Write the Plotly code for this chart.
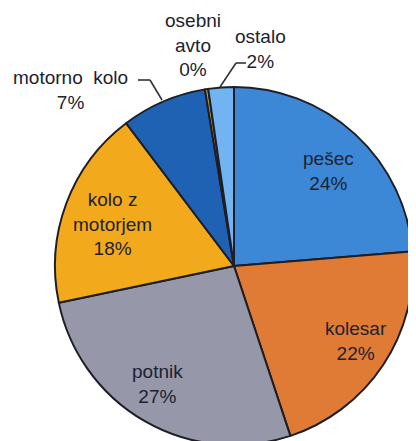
import plotly.graph_objects as go

# ---- data ----
categories = ["pešec", "kolesar", "potnik", "kolo z motorjem", "motorno kolo", "osebni avto", "ostalo"]
shares = [23.7, 21.2, 26.8, 18.0, 7.7, 0.3, 2.3]          # slice sizes as drawn
pct_labels = [24, 22, 27, 18, 7, 0, 2]                      # printed percentages
label_text = ["pešec", "kolesar", "potnik", "kolo z<br>motorjem",
              "motorno\u00a0 kolo", "osebni<br>avto", "ostalo"]
colors = ["#3d88d6", "#e07b36", "#9698aa", "#f2aa1c", "#1f62b4", "#a3a23e", "#72b3f2"]

W, H = 416, 441
OFF = 8  # page body margin offset
def px(x): return (x - OFF) / W
def py(y): return 1 - (y - OFF) / H

fig = go.Figure(go.Pie(
    labels=categories, values=shares, sort=False, direction="clockwise", rotation=0,
    marker=dict(colors=colors, line=dict(color="#1e1e24", width=2)),
    textinfo="none", hoverinfo="skip", showlegend=False,
    domain=dict(x=[px(55), px(413)], y=[py(445), py(87)]),
))

# label placement (screen pixel centres)
pos = {
    "pešec": (328, 171),
    "kolesar": (356, 341),
    "potnik": (157, 384),
    "kolo z motorjem": (112, 224),
    "motorno kolo": (70, 90),
    "osebni avto": (193, 45),
    "ostalo": (261, 49),
}
annotations = []
for cat, lt, p in zip(categories, label_text, pct_labels):
    x, y = pos[cat]
    annotations.append(dict(
        x=px(x), y=py(y), xref="paper", yref="paper", showarrow=False,
        text=f"{lt}<br>{p}%", align="center", xanchor="center", yanchor="middle",
        font=dict(family="Liberation Sans, Arial, sans-serif", size=19, color="#1c2230"),
    ))

shapes = []
def polyline(pts):
    for (x0, y0), (x1, y1) in zip(pts[:-1], pts[1:]):
        shapes.append(dict(type="line", xref="paper", yref="paper",
                           x0=px(x0), y0=py(y0), x1=px(x1), y1=py(y1),
                           line=dict(color="#333333", width=1.6)))
polyline([(138, 80), (150, 80), (162, 100)])
polyline([(246, 63), (236, 63), (220, 87)])

fig.update_layout(
    width=W, height=H, margin=dict(l=0, r=0, t=0, b=0),
    paper_bgcolor="white", plot_bgcolor="white",
    annotations=annotations, shapes=shapes,
)
fig.write_html("out.html")
